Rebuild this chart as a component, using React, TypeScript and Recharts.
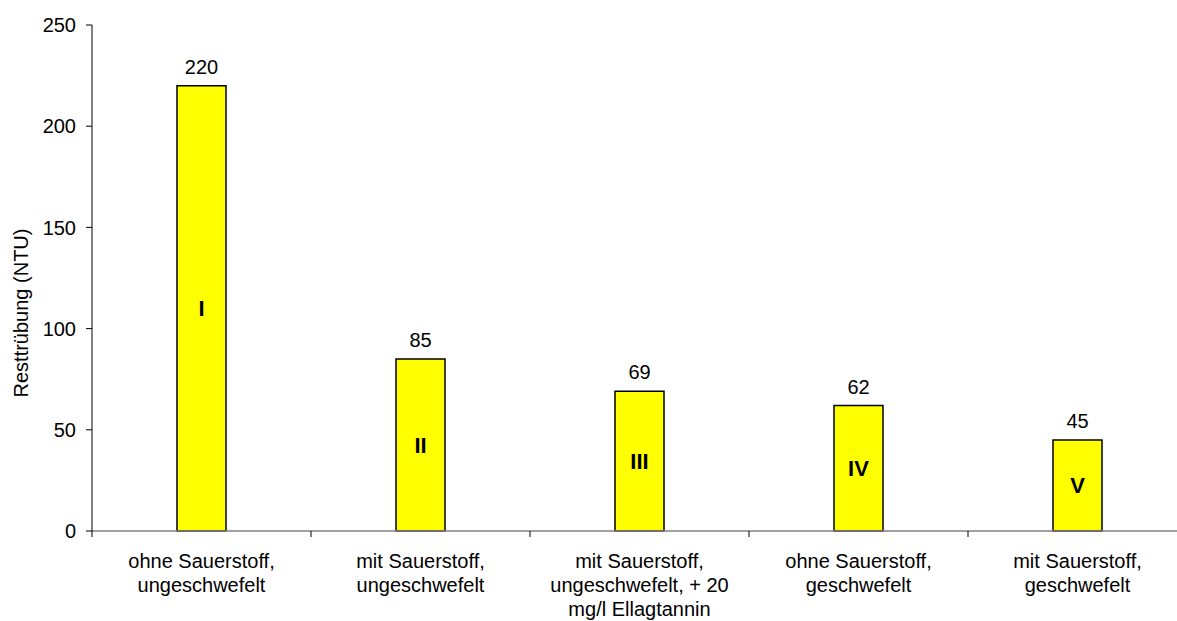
import { BarChart, Bar, XAxis, YAxis, LabelList, Label } from "recharts";

// Kategorien (Zeilenumbruch mit \n)
const categories = [
  "ohne Sauerstoff,\nungeschwefelt",
  "mit Sauerstoff,\nungeschwefelt",
  "mit Sauerstoff,\nungeschwefelt, + 20\nmg/l Ellagtannin",
  "ohne Sauerstoff,\ngeschwefelt",
  "mit Sauerstoff,\ngeschwefelt",
];
const turbidity = [220, 85, 69, 62, 45];
const numerals = ["I", "II", "III", "IV", "V"];
const yTicks = [0, 50, 100, 150, 200, 250];

const data = categories.map((name, i) => ({
  name,
  value: turbidity[i],
  numeral: numerals[i],
}));

const W = 1190;
const H = 621;
const MARGIN = { top: 25, right: 3, bottom: 0, left: 0 };
const Y_AXIS_W = 92;
const X_AXIS_H = 90;
const BAND = (W - MARGIN.left - MARGIN.right - Y_AXIS_W) / categories.length;
const FONT = "'Liberation Sans', Arial, sans-serif";
const FS = 20;

// x-Achse: Beschriftung mittig, Teilstriche an den Kategoriegrenzen
function CategoryTick(props: any) {
  const { x, y, payload, index } = props;
  const lines = String(payload.value).split("\n");
  const half = BAND / 2;
  return (
    <g>
      <line x1={x + half} x2={x + half} y1={y} y2={y + 6} stroke="#000" />
      {index === 0 && (
        <line x1={x - half} x2={x - half} y1={y} y2={y + 6} stroke="#000" />
      )}
      <text
        x={x}
        y={y + 37}
        textAnchor="middle"
        fontSize={FS}
        fontFamily={FONT}
        fill="#000"
      >
        {lines.map((l, i) => (
          <tspan key={i} x={x} dy={i === 0 ? 0 : 24}>
            {l}
          </tspan>
        ))}
      </text>
    </g>
  );
}

export default function App() {
  return (
    <div
      style={{
        position: "fixed",
        left: 0,
        top: 0,
        width: 1177,
        height: H,
        overflow: "hidden",
        background: "#fff",
        fontFamily: FONT,
      }}
    >
      <BarChart width={W} height={H} data={data} margin={MARGIN}>
        <XAxis
          dataKey="name"
          height={X_AXIS_H}
          interval={0}
          tickLine={false}
          tickSize={0}
          tickMargin={0}
          axisLine={{ stroke: "#808080", strokeWidth: 1.5 }}
          tick={<CategoryTick />}
        />
        <YAxis
          width={Y_AXIS_W}
          domain={[0, 250]}
          ticks={yTicks}
          interval={0}
          tickSize={6}
          tickMargin={10}
          axisLine={{ stroke: "#000" }}
          tickLine={{ stroke: "#000" }}
          tick={{ fill: "#000", fontSize: FS, fontFamily: FONT }}
        >
          <Label
            content={() => (
              <text
                x={21}
                y={313}
                transform="rotate(-90 21 313)"
                textAnchor="middle"
                dominantBaseline="central"
                fontSize={FS}
                fontFamily={FONT}
                fill="#000"
              >
                Resttrübung (NTU)
              </text>
            )}
          />
        </YAxis>
        <Bar
          dataKey="value"
          fill="#ffff00"
          stroke="#000"
          strokeWidth={1.5}
          barSize={49}
          isAnimationActive={false}
        >
          <LabelList
            dataKey="value"
            position="top"
            offset={12}
            fill="#000"
            fontSize={FS}
            fontFamily={FONT}
          />
          <LabelList
            dataKey="numeral"
            position="center"
            fill="#000"
            fontSize={22}
            fontWeight="bold"
            fontFamily={FONT}
          />
        </Bar>
      </BarChart>
    </div>
  );
}
